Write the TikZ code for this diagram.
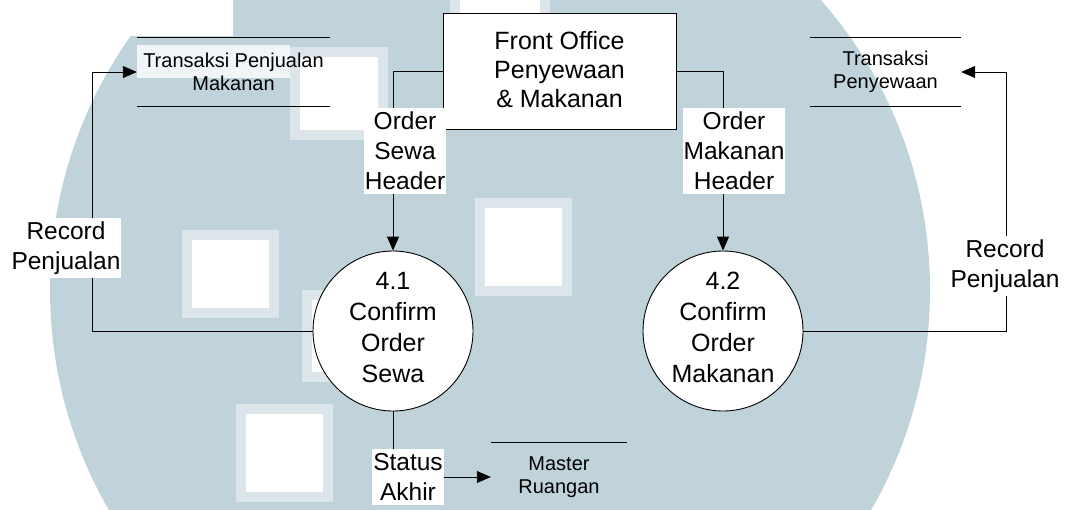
\documentclass[tikz,border=0pt]{standalone}
\usepackage{fontspec}
\setmainfont{Liberation Sans}
\usetikzlibrary{arrows.meta}
\definecolor{wm}{HTML}{C1D3DA}
\definecolor{wmedge}{HTML}{DCE6EA}
\begin{document}
\begin{tikzpicture}[x=1pt,y=-1pt,
  line/.style={draw=black, line width=0.9pt},
  arr/.style={line, -{Triangle[length=14pt,width=12pt]}},
  proc/.style={circle, draw=black, fill=white, line width=0.9pt, minimum size=160pt, inner sep=0pt, align=center, text depth=7pt, font=\fontsize{25}{31}\selectfont},
  ext/.style={draw=black, fill=white, line width=0.9pt, minimum width=233pt, minimum height=116pt, align=center, text depth=5pt, font=\fontsize{25}{29}\selectfont},
  flowlbl/.style={fill=white, inner xsep=1pt, inner ysep=4pt, align=center, font=\fontsize{24.5}{30}\selectfont},
  store/.style={align=center, inner sep=0pt, font=\fontsize{20}{23}\selectfont},
  storeline/.style={draw=black, line width=0.9pt}
]
\useasboundingbox (0,0) rectangle (1068,509);
% watermark background
\begin{scope}
  \clip (0,0) rectangle (1068,509);
  \fill[wm] (490,290) circle (440);
  \fill[white] (0,0) rectangle (233,36);
  \fill[white!60!wmedge] (137,45) rectangle (290,78);
  \foreach \a/\b/\c/\d in {475/198/572/296, 236/404/333/502, 182/230/279/318, 290/47/388/140, 302/290/400/382, 450/-40/550/58}{
    \fill[wmedge] (\a,\b) rectangle (\c,\d);
    \fill[white] (\a+10,\b+10) rectangle (\c-10,\d-10);
  }
\end{scope}

% nodes
\node[ext] (fo) at (559.5,71.5) {Front Office\\Penyewaan\\\& Makanan};
\node[proc] (p1) at (393,331) {4.1\\Confirm\\Order\\Sewa};
\node[proc] (p2) at (723,331) {4.2\\Confirm\\Order\\Makanan};

\node[store, minimum width=193pt, minimum height=68pt] (ds1) at (233.5,72) {Transaksi Penjualan\\Makanan};
\node[store, minimum width=151pt, minimum height=68pt] (ds2) at (885.5,72) {Transaksi\\Penyewaan};
\node[store, minimum width=136pt, minimum height=68pt] (ds3) at (559,477) {Master\\Ruangan};
\draw[storeline] (ds1.north west) -- (ds1.north east) (ds1.south west) -- (ds1.south east);
\draw[storeline] (ds2.north west) -- (ds2.north east) (ds2.south west) -- (ds2.south east);
\draw[storeline] (ds3.north west) -- (ds3.north east);

\coordinate (c1) at (92,72);
\coordinate (c2) at (1006,72);

% connectors
\draw[arr] (fo.west) -| (p1.north);
\draw[arr] (fo.east) -| (p2.north);
\draw[line] (p1.west) -| (c1);
\draw[arr] (c1) -- (ds1.west);
\draw[line] (p2.east) -| (c2);
\draw[arr] (c2) -- (ds2.east);
\draw[arr] (p1.south) |- (ds3.west);

% flow labels
\node[flowlbl] (l1) at (405,151) {Order\\Sewa\\Header};
\node[flowlbl] (l2) at (734,151) {Order\\Makanan\\Header};
\node[flowlbl] (l3) at (66,248) {Record\\Penjualan};
\node[flowlbl] (l4) at (1005,266) {Record\\Penjualan};
\node[flowlbl] (l5) at (408,477) {Status\\Akhir};
\end{tikzpicture}
\end{document}
